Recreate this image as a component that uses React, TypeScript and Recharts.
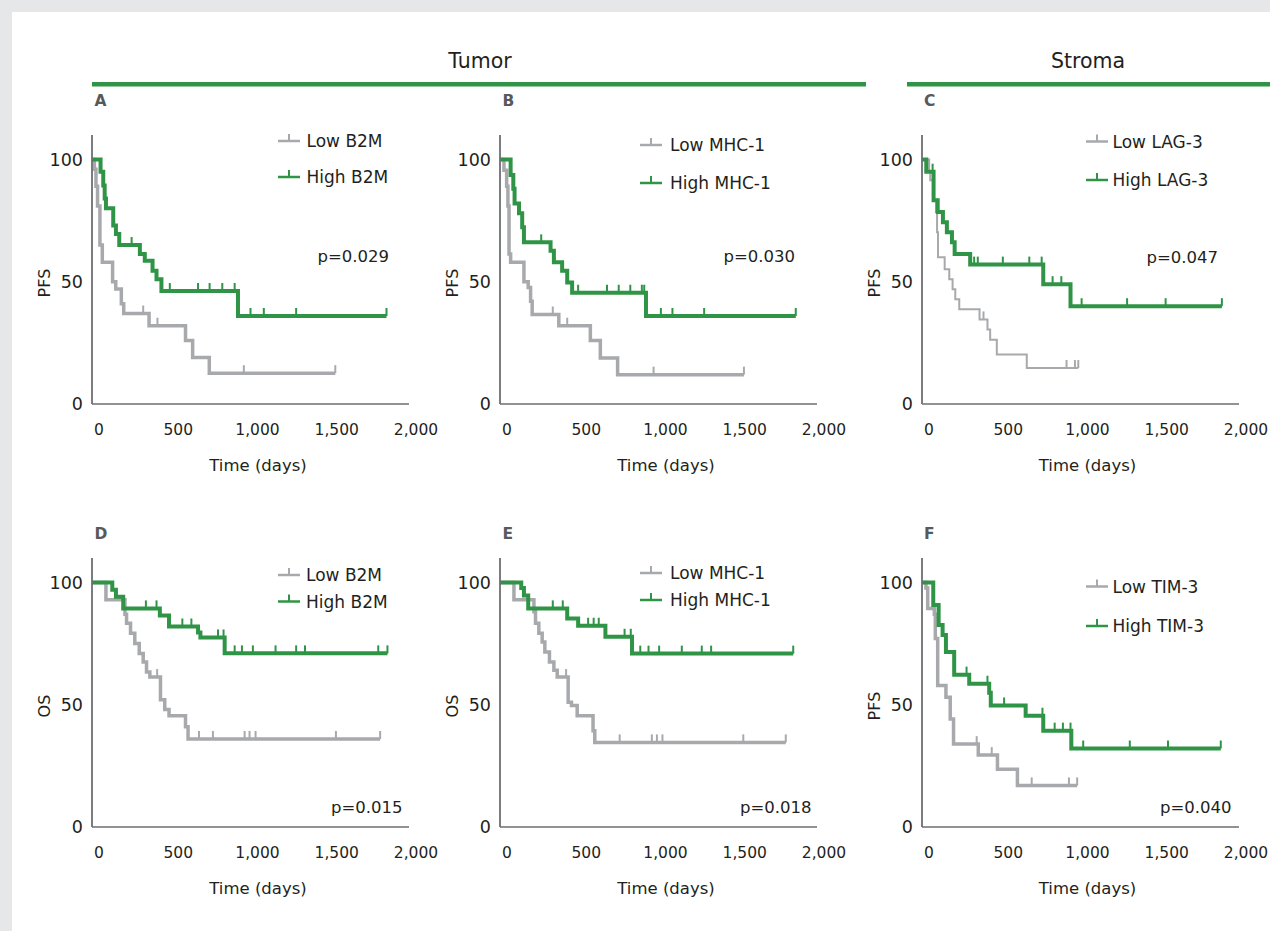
import React from "react";
import { LineChart, Line, XAxis, YAxis } from "recharts";

const X_TICKS = [0, 500, 1000, 1500, 2000];
const Y_TICKS = [0, 50, 100];

// A: PFS, tumour B2M
const A_LOW_T = [0, 15, 25, 35, 50, 65, 130, 150, 185, 200, 360, 590, 635, 740];
const A_LOW_S = [100, 96, 89, 81, 65, 58, 50, 47, 41, 37, 32, 26, 19, 12.6];
const A_LOW_C = [323, 413, 958, 1535];
const A_HIGH_T = [0, 54, 71, 80, 88, 134, 151, 172, 302, 333, 382, 407, 438, 921];
const A_HIGH_S = [100, 95, 89.4, 84, 80, 73, 69.5, 65, 61.3, 58.6, 54.5, 51, 46.2, 36];
const A_HIGH_C = [250, 491, 669, 742, 822, 900, 1000, 1084, 1288, 1858];

// B: PFS, tumour MHC-1
const B_LOW_T = [0, 25, 42, 50, 57, 67, 151, 178, 193, 203, 371, 570, 633, 742];
const B_LOW_S = [100, 95.6, 89, 81, 61.3, 58, 50, 47.6, 42, 36.6, 32, 26, 18.8, 12];
const B_LOW_C = [333, 424, 969, 1539];
const B_HIGH_T = [0, 67, 84, 92, 120, 140, 151, 319, 340, 392, 424, 455, 921];
const B_HIGH_S = [100, 93.6, 88, 82, 78, 72.3, 66.1, 62.7, 58, 54.5, 49.7, 45.5, 36];
const B_HIGH_C = [260, 493, 675, 749, 822, 895, 910, 1015, 1088, 1288, 1866];

// C: PFS, stroma LAG-3
const C_LOW_T = [0, 45, 52, 73, 88, 95, 101, 143, 172, 193, 210, 235, 363, 413, 430, 472, 661];
const C_LOW_S = [100, 95, 91.5, 83, 78.5, 70.2, 60, 55.1, 51, 46.9, 42.8, 38.7, 34.6, 30.5, 26.3, 20.2, 14.7];
const C_LOW_C = [388, 912, 965, 986];
const C_HIGH_T = [0, 27, 73, 99, 132, 157, 189, 206, 304, 765, 937];
const C_HIGH_S = [100, 95, 83.3, 78.5, 74.3, 70.2, 66.1, 61.3, 57, 49, 40];
const C_HIGH_C = [67, 329, 352, 510, 677, 755, 824, 879, 1007, 1294, 1537, 1892];

// D: OS, tumour B2M
const D_LOW_T = [0, 88, 208, 218, 243, 270, 298, 323, 344, 365, 432, 459, 486, 590, 606];
const D_LOW_S = [100, 92.9, 87, 83.3, 79.2, 75, 70.9, 67.5, 63.4, 61.3, 52, 48, 45.5, 41, 36];
const D_LOW_C = [411, 675, 763, 963, 994, 1032, 1539, 1818];
const D_HIGH_T = [0, 128, 151, 197, 428, 486, 669, 684, 837];
const D_HIGH_S = [100, 97, 94.2, 89.4, 86.5, 82, 79.5, 77.5, 71];
const D_HIGH_C = [340, 407, 570, 627, 795, 830, 900, 946, 1015, 1158, 1288, 1344, 1806, 1864];

// E: OS, tumour MHC-1
const E_LOW_T = [0, 88, 214, 224, 245, 266, 283, 312, 340, 361, 430, 451, 487, 587, 598];
const E_LOW_S = [100, 92.9, 88, 83.3, 79.2, 75.7, 71.6, 67.5, 64.1, 61.3, 51, 49.7, 45.5, 39.4, 34.6];
const E_LOW_C = [417, 755, 958, 990, 1025, 1535, 1803];
const E_HIGH_T = [0, 134, 151, 178, 424, 493, 665, 833];
const E_HIGH_S = [100, 97.7, 94.7, 89.4, 85.3, 82.3, 77.8, 70.9];
const E_HIGH_C = [333, 396, 556, 591, 623, 786, 825, 885, 937, 1004, 1147, 1273, 1332, 1850];

// F: PFS, stroma TIM-3
const F_LOW_T = [0, 25, 36, 78, 84, 99, 151, 178, 199, 355, 476, 602];
const F_LOW_S = [100, 97.7, 89.4, 87, 77.1, 57.9, 53.1, 44.2, 33.9, 29.4, 23.6, 17];
const F_LOW_C = [345, 440, 692, 927, 979];
const F_HIGH_T = [0, 71, 105, 130, 151, 203, 298, 424, 434, 654, 765, 942];
const F_HIGH_S = [100, 90.8, 82.6, 78.5, 71.6, 62.3, 58.6, 54.9, 49.7, 45.5, 39.4, 32.1];
const F_HIGH_C = [281, 413, 518, 760, 837, 889, 937, 1017, 1311, 1552, 1885];

const GREEN = "#2f9446";
const GRAY = "#a7a9ac";
const AXIS = "#6d6e71";
const INK = "#231f20";
const FONT = "'DejaVu Sans', sans-serif";

const COL_X = [92, 500, 921.5];
const ROW_TOP = [135, 558];
const PLOT_W = 317;
const PLOT_H = 269;

// merge events + censored times (censor sits on the current step level)
function kmSeries(times: number[], surv: number[], censors: number[]) {
  const pts = times.map((t, i) => ({ t, s: surv[i], c: false }));
  censors.forEach((t) => {
    let s = surv[0];
    times.forEach((et, i) => {
      if (et <= t) s = surv[i];
    });
    pts.push({ t, s, c: true });
  });
  return pts.sort((a, b) => a.t - b.t);
}

const PANELS = [
  {
    letter: "A", col: 0, row: 0, yLabel: "PFS", names: ["Low B2M", "High B2M"],
    low: kmSeries(A_LOW_T, A_LOW_S, A_LOW_C), high: kmSeries(A_HIGH_T, A_HIGH_S, A_HIGH_C),
    p: "p=0.029", thin: false,
    leg: { x: 278, tx: 306.5, y1: 141, y2: 177 }, pPos: { x: 389, y: 256 },
  },
  {
    letter: "B", col: 1, row: 0, yLabel: "PFS", names: ["Low MHC-1", "High MHC-1"],
    low: kmSeries(B_LOW_T, B_LOW_S, B_LOW_C), high: kmSeries(B_HIGH_T, B_HIGH_S, B_HIGH_C),
    p: "p=0.030", thin: false,
    leg: { x: 640, tx: 670, y1: 145, y2: 183 }, pPos: { x: 795, y: 256 },
  },
  {
    letter: "C", col: 2, row: 0, yLabel: "PFS", names: ["Low LAG-3", "High LAG-3"],
    low: kmSeries(C_LOW_T, C_LOW_S, C_LOW_C), high: kmSeries(C_HIGH_T, C_HIGH_S, C_HIGH_C),
    p: "p=0.047", thin: true,
    leg: { x: 1086, tx: 1112.5, y1: 141.5, y2: 180 }, pPos: { x: 1218, y: 256.5 },
  },
  {
    letter: "D", col: 0, row: 1, yLabel: "OS", names: ["Low B2M", "High B2M"],
    low: kmSeries(D_LOW_T, D_LOW_S, D_LOW_C), high: kmSeries(D_HIGH_T, D_HIGH_S, D_HIGH_C),
    p: "p=0.015", thin: false,
    leg: { x: 278, tx: 306, y1: 575, y2: 601.5 }, pPos: { x: 402.5, y: 806.5 },
  },
  {
    letter: "E", col: 1, row: 1, yLabel: "OS", names: ["Low MHC-1", "High MHC-1"],
    low: kmSeries(E_LOW_T, E_LOW_S, E_LOW_C), high: kmSeries(E_HIGH_T, E_HIGH_S, E_HIGH_C),
    p: "p=0.018", thin: false,
    leg: { x: 640, tx: 670, y1: 573, y2: 600 }, pPos: { x: 811.5, y: 806.5 },
  },
  {
    letter: "F", col: 2, row: 1, yLabel: "PFS", names: ["Low TIM-3", "High TIM-3"],
    low: kmSeries(F_LOW_T, F_LOW_S, F_LOW_C), high: kmSeries(F_HIGH_T, F_HIGH_S, F_HIGH_C),
    p: "p=0.040", thin: false,
    leg: { x: 1086, tx: 1112.5, y1: 586.5, y2: 626 }, pPos: { x: 1231.5, y: 806.5 },
  },
];

const fmt = (v: number) => v.toLocaleString("en-US");

function XTick(props: any) {
  const { x, y, payload } = props;
  return (
    <text x={x + 7} y={y + 31} textAnchor="middle" fontSize={15.5} fontFamily={FONT} fill={INK}>
      {fmt(payload.value)}
    </text>
  );
}

function YTick(props: any) {
  const { x, y, payload } = props;
  return (
    <text x={x} y={y + 6.4} textAnchor="end" fontSize={17.5} fontFamily={FONT} fill={INK}>
      {payload.value}
    </text>
  );
}

const censorDot = (color: string) => (props: any) => {
  const { cx, cy, payload, index } = props;
  if (!payload || !payload.c) return <g key={`n${index}`} />;
  return (
    <line key={`c${index}`} x1={cx} x2={cx} y1={cy} y2={cy - 8} stroke={color} strokeWidth={2} />
  );
};

function KmPanel({ p }: { p: any }) {
  const axisX = COL_X[p.col];
  const plotTop = ROW_TOP[p.row];
  return (
    <div style={{ position: "absolute", left: axisX - 70, top: plotTop - 10 }}>
      <LineChart width={70 + PLOT_W + 45} height={10 + PLOT_H + 40} margin={{ top: 10, right: 45, bottom: 0, left: 0 }}>
        <XAxis
          type="number"
          dataKey="t"
          domain={[0, 2000]}
          ticks={X_TICKS}
          allowDataOverflow
          tickLine={false}
          tickSize={0}
          tickMargin={0}
          height={40}
          axisLine={{ stroke: AXIS, strokeWidth: 1.5 }}
          tick={(tp: any) => <XTick {...tp} />}
        />
        <YAxis
          type="number"
          domain={[0, 110]}
          ticks={Y_TICKS}
          allowDataOverflow
          tickLine={false}
          tickSize={0}
          tickMargin={9}
          width={70}
          axisLine={{ stroke: AXIS, strokeWidth: 1.8 }}
          tick={(tp: any) => <YTick {...tp} />}
        />
        <Line
          data={p.low}
          dataKey="s"
          type="stepAfter"
          stroke={GRAY}
          strokeWidth={p.thin ? 2 : 3.5}
          strokeLinecap="butt"
          dot={censorDot(GRAY)}
          activeDot={false}
          isAnimationActive={false}
        />
        <Line
          data={p.high}
          dataKey="s"
          type="stepAfter"
          stroke={GREEN}
          strokeWidth={4}
          strokeLinecap="butt"
          dot={censorDot(GREEN)}
          activeDot={false}
          isAnimationActive={false}
        />
      </LineChart>
    </div>
  );
}

function Annotations() {
  return (
    <svg width={1270} height={931} style={{ position: "absolute", left: 0, top: 0, pointerEvents: "none" }}>
      <text x={480} y={68} textAnchor="middle" fontSize={20.5} fontFamily={FONT} fill={INK}>Tumor</text>
      <text x={1088} y={68} textAnchor="middle" fontSize={20.5} fontFamily={FONT} fill={INK}>Stroma</text>
      <rect x={92} y={82} width={774} height={4.5} fill={GREEN} />
      <rect x={907} y={82} width={363} height={4.5} fill={GREEN} />
      {PANELS.map((p) => {
        const axisX = COL_X[p.col];
        const plotTop = ROW_TOP[p.row];
        const axisY = plotTop + PLOT_H;
        const labY = p.row === 0 ? 106 : 539;
        const yLabCx = axisX - 47.5;
        const yLabCy = plotTop + 148;
        const { x, tx, y1, y2 } = p.leg;
        return (
          <g key={p.letter}>
            <text x={axisX + 2.5} y={labY} fontSize={15.5} fontWeight="bold" fontFamily={FONT} fill="#58595b">{p.letter}</text>
            {[{ y: y1, c: GRAY, n: p.names[0] }, { y: y2, c: GREEN, n: p.names[1] }].map((e) => (
              <g key={e.n}>
                <line x1={x} x2={x + 22} y1={e.y} y2={e.y} stroke={e.c} strokeWidth={2.5} />
                <line x1={x + 11} x2={x + 11} y1={e.y} y2={e.y - 7} stroke={e.c} strokeWidth={2} />
                <text x={tx} y={e.y + 6.2} fontSize={17} fontFamily={FONT} fill={INK}>{e.n}</text>
              </g>
            ))}
            <text x={p.pPos.x} y={p.pPos.y + 6} textAnchor="end" fontSize={16.5} fontFamily={FONT} fill={INK}>{p.p}</text>
            <text x={axisX + 166} y={axisY + 67} textAnchor="middle" fontSize={16.5} fontFamily={FONT} fill={INK}>Time (days)</text>
            <text
              x={yLabCx}
              y={yLabCy + 5.8}
              textAnchor="middle"
              fontSize={16}
              fontFamily={FONT}
              fill={INK}
              transform={`rotate(-90, ${yLabCx}, ${yLabCy})`}
            >
              {p.yLabel}
            </text>
          </g>
        );
      })}
    </svg>
  );
}

export default function App() {
  return (
    <div style={{ position: "relative", width: 1270, height: 931, overflow: "hidden", background: "#e6e7e8" }}>
      <style>{`body { margin: 0; overflow: hidden; }`}</style>
      <div style={{ position: "absolute", left: 12, top: 12, right: 0, bottom: 0, background: "#ffffff" }} />
      {PANELS.map((p) => (
        <KmPanel key={p.letter} p={p} />
      ))}
      <Annotations />
    </div>
  );
}
